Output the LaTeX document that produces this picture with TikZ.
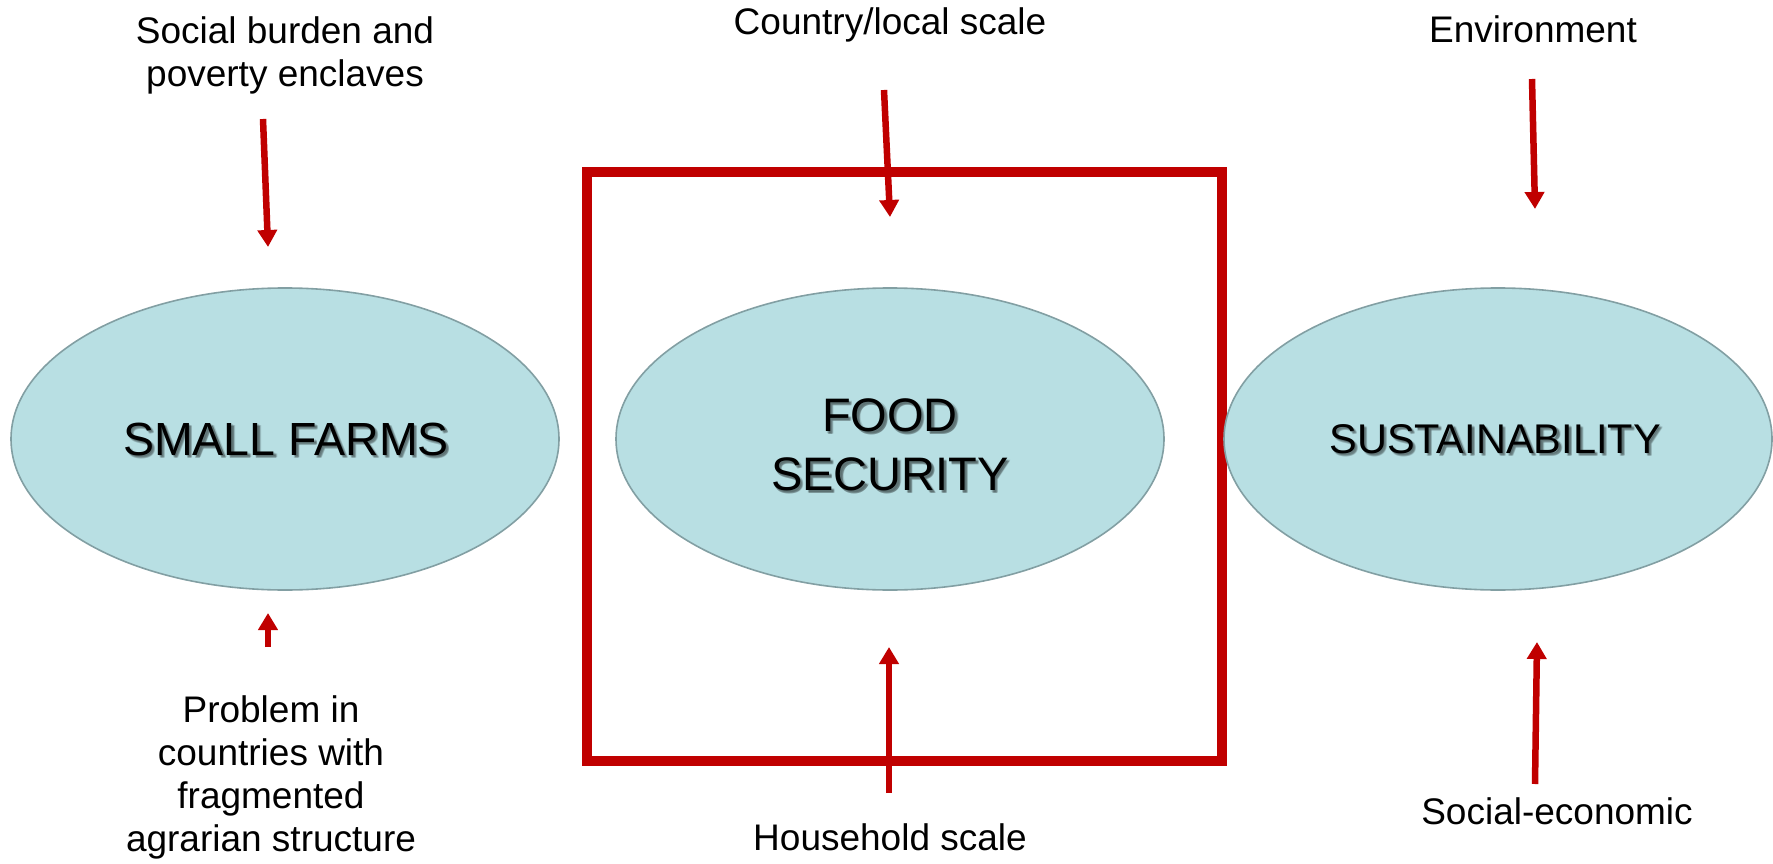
\documentclass[tikz,border=0pt]{standalone}
\usepackage{fontspec}
\setmainfont{Liberation Sans}
\usetikzlibrary{shapes.geometric,arrows.meta}
\definecolor{ellfill}{HTML}{B8DFE3}
\definecolor{elldraw}{HTML}{829FA3}
\definecolor{darkred}{HTML}{C00000}
\tikzset{
  topic/.style={ellipse, draw=elldraw, line width=1.6pt, fill=ellfill,
    minimum width=548pt, minimum height=302pt, inner sep=0pt},
  label/.style={font=\fontsize{37}{43}\selectfont, align=center, inner sep=0pt},
  title/.style={align=center, inner sep=0pt},
  haze/.style={title, text=black, opacity=0.12},
  pointer/.style={draw=darkred, line width=6.5pt,
    -{Triangle[width=19pt,length=17pt]}},
  frame/.style={draw=darkred, line width=10pt}
}
\begin{document}
\begin{tikzpicture}[x=1pt,y=-1pt]
\useasboundingbox (0,0) rectangle (1773,864);

% frame around the central concept
\draw[frame] (587,172) rectangle (1222,761);

% the three concepts
\node[topic] (farms) at (285,439) {};
\node[topic] (food)  at (890,439) {};
\node[topic] (sust)  at (1498,439) {};

% concept titles, each over a soft (layered) drop shadow
\foreach \n/\t/\fs/\dx/\dy in {farms/SMALL FARMS/46.5/1/0,
    food/{FOOD\\SECURITY}/47/0/6, sust/SUSTAINABILITY/41.5/-3/0}{
  \foreach \sx/\sy in {1.5/1.5, 2.5/2.5, 3.2/2.2, 2.2/3.2, 3/3}{
    \node[haze, font=\fontsize{\fs}{59}\selectfont]
      at ([shift={(\dx+\sx,\dy+\sy)}]\n.center) {\t};
  }
  \node[title, font=\fontsize{\fs}{59}\selectfont] (\n-t)
    at ([shift={(\dx,\dy)}]\n.center) {\t};
}

% surrounding annotations
\node[label] (burden) at (285,55) {Social burden and\\poverty enclaves};
\node[label] (country) at (890,25) {Country/local scale};
\node[label] (env) at (1533,29) {Environment};
\node[label] (problem) at (271,777) {Problem in\\countries with\\fragmented\\agrarian structure};
\node[label] (house) at (890,837) {Household scale};
\node[label] (socec) at (1557,811) {Social-economic};

% arrow ends
\coordinate (a1s) at (263,119);  \coordinate (a1e) at (268,247);
\coordinate (a2s) at (268,647);  \coordinate (a2e) at (268,613);
\coordinate (a3s) at (884,90);   \coordinate (a3e) at (890,217);
\coordinate (a4s) at (889,793);  \coordinate (a4e) at (889,647);
\coordinate (a5s) at (1532,79);  \coordinate (a5e) at (1535,209);
\coordinate (a6s) at (1535,784); \coordinate (a6e) at (1537,642);

\foreach \i in {1,...,6}{
  \draw[pointer] (a\i s) -- (a\i e);
}
\end{tikzpicture}
\end{document}
